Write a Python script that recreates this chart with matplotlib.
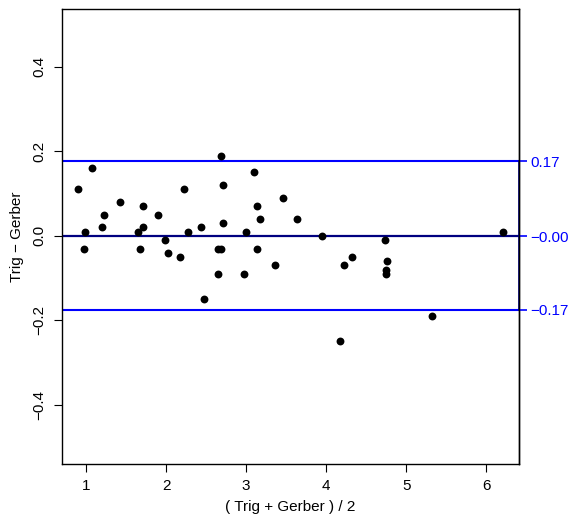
import matplotlib
matplotlib.use("Agg")
import matplotlib.pyplot as plt
import numpy as np

# Bland-Altman data: mean of methods vs. difference
avg = [0.90, 1.08, 0.99, 0.97, 1.22, 1.20, 1.42, 1.65, 1.68, 1.71, 1.71, 1.90,
       1.99, 2.03, 2.17, 2.22, 2.28, 2.44, 2.47, 2.65, 2.65, 2.69, 2.69, 2.71,
       2.71, 2.97, 3.00, 3.10, 3.14, 3.14, 3.17, 3.36, 3.46, 3.64, 3.95, 4.22,
       4.32, 4.17, 4.74, 4.76, 4.75, 4.75, 5.32, 6.21]
diff = [0.11, 0.16, 0.01, -0.03, 0.05, 0.02, 0.08, 0.01, -0.03, 0.02, 0.07, 0.05,
        -0.01, -0.04, -0.05, 0.11, 0.01, 0.02, -0.15, -0.09, -0.03, -0.03, 0.19, 0.12,
        0.03, -0.09, 0.01, 0.15, 0.07, -0.03, 0.04, -0.07, 0.09, 0.04, 0.00, -0.07,
        -0.05, -0.25, -0.01, -0.06, -0.08, -0.09, -0.19, 0.01]

mean_diff = -0.001
loa_upper = 0.177
loa_lower = -0.175
ref_labels = ["0.17", "\u22120.00", "\u22120.17"]

x_ticks = [1, 2, 3, 4, 5, 6]
y_ticks = [-0.4, -0.2, 0.0, 0.2, 0.4]

plt.rcParams["font.family"] = ["Liberation Sans", "DejaVu Sans"]
FS = 11

fig = plt.figure(figsize=(5.72, 5.19), dpi=100, facecolor="white")
ax = fig.add_axes([0.1084, 0.106, 0.7989, 0.8767])

ax.axhline(loa_upper, color="#0000FF", lw=1.5, zorder=2)
ax.axhline(loa_lower, color="#0000FF", lw=1.5, zorder=2)
ax.axhline(mean_diff, color="#000080", lw=1.6, zorder=2)
ax.scatter(avg, diff, s=32, color="black", linewidths=0, zorder=3)

ax.set_xlim(0.70, 6.41)
ax.set_ylim(-0.54, 0.537)
ax.set_xticks(x_ticks)
ax.set_xticklabels([str(t) for t in x_ticks])
ax.set_yticks(y_ticks)
ax.set_yticklabels(["\u22120.4", "\u22120.2", "0.0", "0.2", "0.4"], rotation=90, va="center")
ax.tick_params(axis="both", direction="out", length=6, width=0.8, labelsize=FS, colors="black")
ax.tick_params(axis="x", pad=5)
ax.tick_params(axis="y", pad=5)
for s in ax.spines.values():
    s.set_linewidth(1.0)

ax.set_xlabel("( Trig + Gerber ) / 2", fontsize=FS, labelpad=5)
ax.set_ylabel("Trig \u2212 Gerber", fontsize=FS, labelpad=6)

# right-hand axis with reference line labels
ax2 = ax.twinx()
ax2.set_ylim(ax.get_ylim())
ax2.set_yticks([loa_upper, mean_diff, loa_lower])
ax2.set_yticklabels(ref_labels)
ax2.tick_params(axis="y", direction="out", length=6, width=1.2, labelsize=FS,
                colors="#0000FF", pad=2)
for s in ["left", "top", "bottom"]:
    ax2.spines[s].set_visible(False)
ax2.spines["right"].set_linewidth(1.0)
ax.plot([6.41, 6.41], [loa_lower, loa_upper], color="#000080", lw=1.2,
        clip_on=False, zorder=4)

fig.savefig("out.png", dpi=100, facecolor="white")
